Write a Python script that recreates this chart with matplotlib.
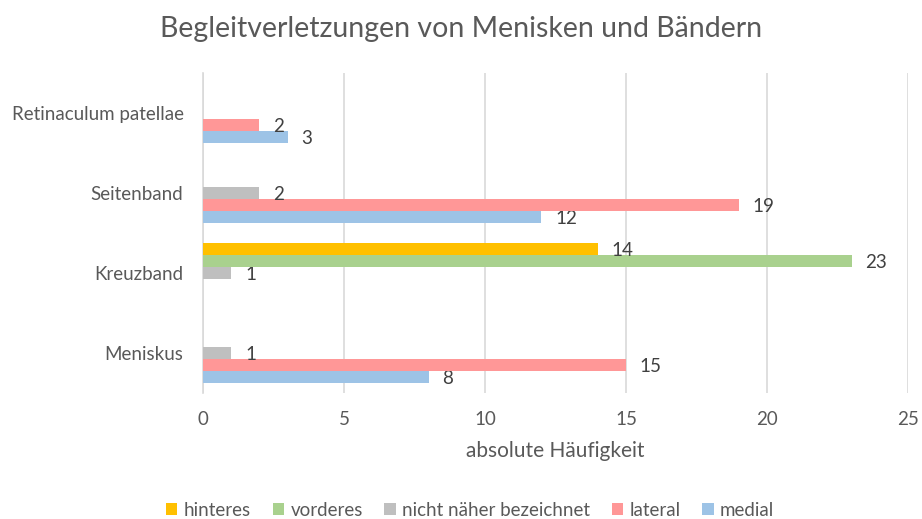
import matplotlib
matplotlib.use("Agg")
import matplotlib.pyplot as plt
import numpy as np

categories = ["Meniskus", "Kreuzband", "Seitenband", "Retinaculum patellae"]
series_names = ["medial", "lateral", "nicht näher bezeichnet", "vorderes", "hinteres"]
medial = [8, 0, 12, 3]
lateral = [15, 0, 19, 2]
nicht_naeher = [1, 1, 2, 0]
vorderes = [0, 23, 0, 0]
hinteres = [0, 14, 0, 0]
x_ticks = [0, 5, 10, 15, 20, 25]

series_values = [medial, lateral, nicht_naeher, vorderes, hinteres]
colors = ["#9DC3E6", "#FF9797", "#BFBFBF", "#A9D18E", "#FFC000"]

plt.rcParams["font.family"] = ["Lato", "DejaVu Sans"]
text_color = "#595959"
fs = 13.5

fig = plt.figure(figsize=(9.22, 5.19), dpi=100)
ax = fig.add_axes([203 / 922, 1 - 393 / 519, (908 - 203) / 922, (393 - 73) / 519])

bar_h = 0.15
y = np.arange(len(categories))
handles = {}
for k, (name, vals, col) in enumerate(zip(series_names, series_values, colors)):
    offs = (k - 2) * bar_h
    for i, v in enumerate(vals):
        if v == 0:
            continue
        b = ax.barh(y[i] + offs, v, height=bar_h, color=col, edgecolor="none", zorder=3)
        handles[name] = b
        ax.annotate(str(v), xy=(v, y[i] + offs), xytext=(10, -1), textcoords="offset points",
                    ha="left", va="center", fontsize=fs, color="#404040")

ax.set_xlim(0, 25)
ax.set_ylim(-0.5, 3.5)
ax.set_xticks(x_ticks)
ax.set_xticklabels([str(t) for t in x_ticks])
ax.set_yticks(y)
ax.set_yticklabels(categories)
ax.tick_params(axis="both", length=0, labelsize=fs, colors=text_color)
ax.tick_params(axis="x", pad=13)
ax.tick_params(axis="y", pad=14)
ax.grid(axis="x", color="#D9D9D9", linewidth=1.2, zorder=0)
for side in ["top", "right", "bottom"]:
    ax.spines[side].set_visible(False)
ax.spines["left"].set_color("#D9D9D9")
ax.spines["left"].set_linewidth(1.2)
ax.set_xlabel("absolute Häufigkeit", fontsize=15, color=text_color, labelpad=9)

fig.text(0.5, 1 - 29 / 519, "Begleitverletzungen von Menisken und Bändern",
         ha="center", va="center", fontsize=20.5, color=text_color)

order = ["hinteres", "vorderes", "nicht näher bezeichnet", "lateral", "medial"]
leg = fig.legend([handles[n] for n in order], order, loc="center", ncol=5,
                 bbox_to_anchor=(0.51, 1 - 510 / 519), frameon=False, fontsize=fs,
                 handlelength=0.6, handleheight=0.6, handletextpad=0.35, columnspacing=1.15)
for t in leg.get_texts():
    t.set_color(text_color)

fig.savefig("out.png", dpi=100)
